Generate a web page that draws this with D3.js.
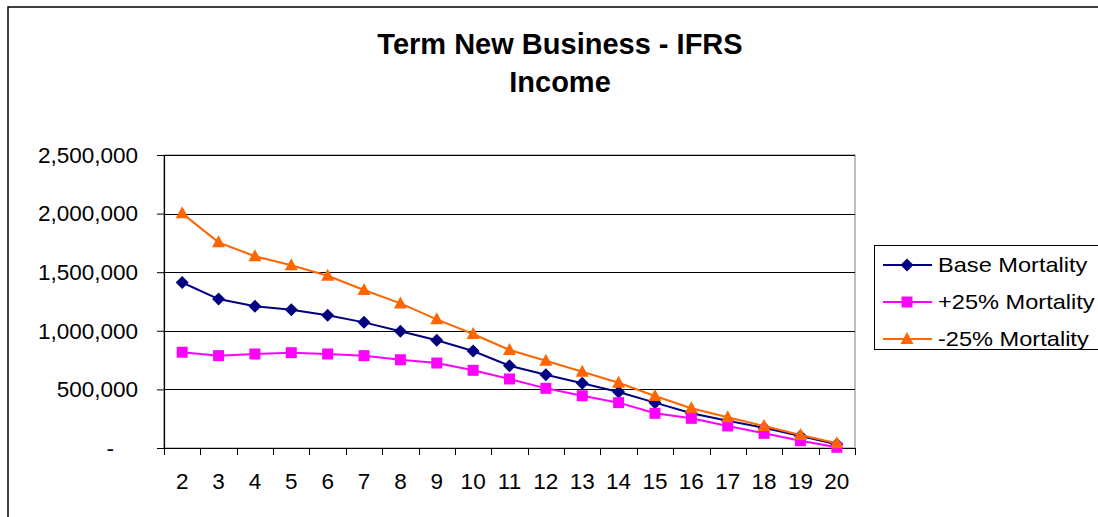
<!DOCTYPE html>
<html>
<head>
<meta charset="utf-8">
<script src="https://cdn.jsdelivr.net/npm/d3@7"></script>
<style>
  html, body { margin: 0; padding: 0; background: #fff; }
  svg { display: block; font-family: "Liberation Sans", Arial, sans-serif; }
</style>
</head>
<body>
<svg id="chart" width="1098" height="517"></svg>
<script>
// ---- data ----
const categories = [2,3,4,5,6,7,8,9,10,11,12,13,14,15,16,17,18,19,20];
const baseMortality = [1412000,1271000,1209000,1180000,1132000,1072000,996000,919000,828000,702000,625000,552000,478000,387000,296000,233000,173000,102000,32000];
const plus25Mortality = [817000,788000,802000,813000,802000,788000,753000,725000,663000,589000,509000,446000,387000,296000,253000,188000,125000,62000,6000];
const minus25Mortality = [2002000,1755000,1636000,1559000,1470000,1348000,1234000,1098000,973000,836000,745000,651000,557000,444000,339000,262000,188000,111000,40000];
const yTickValues = [0,500000,1000000,1500000,2000000,2500000];
const titleLines = ["Term New Business - IFRS", "Income"];

const series = [
  { name: "Base Mortality", values: baseMortality, color: "#000080", marker: "diamond" },
  { name: "+25% Mortality", values: plus25Mortality, color: "#FF00FF", marker: "square" },
  { name: "-25% Mortality", values: minus25Mortality, color: "#FF6600", marker: "triangle" }
];

// ---- layout ----
const svg = d3.select("#chart");
const plot = { left: 164, right: 855, top: 155, bottom: 448 };

// chart border (extends beyond page right/bottom)
svg.append("rect").attr("x", 8).attr("y", 7).attr("width", 1200).attr("height", 600)
  .attr("fill", "none").attr("stroke", "#000").attr("stroke-width", 1.5);

const x = d3.scaleBand().domain(categories).range([plot.left, plot.right]).padding(0);
const y = d3.scaleLinear().domain([0, 2500000]).range([plot.bottom, plot.top]);

// plot area frame (grey)
svg.append("rect").attr("x", plot.left).attr("y", plot.top)
  .attr("width", plot.right - plot.left).attr("height", plot.bottom - plot.top)
  .attr("fill", "none").attr("stroke", "#808080").attr("stroke-width", 1);

// gridlines
svg.append("g").selectAll("line").data(yTickValues.filter(v => v > 0)).join("line")
  .attr("x1", plot.left).attr("x2", plot.right)
  .attr("y1", d => Math.round(y(d)) + 0.5).attr("y2", d => Math.round(y(d)) + 0.5)
  .attr("stroke", "#000").attr("stroke-width", 1);

// y axis
const yAxis = d3.axisLeft(y).tickValues(yTickValues).tickSize(7).tickPadding(19)
  .tickFormat(d => d === 0 ? "-" : d3.format(",")(d));
const gy = svg.append("g").attr("transform", `translate(${plot.left},0)`).call(yAxis);
gy.select(".domain").attr("stroke", "#000").attr("stroke-width", 1.2);
gy.selectAll(".tick line").attr("stroke", "#000");
gy.selectAll(".tick text").attr("font-size", 22.5).attr("fill", "#000")
  .attr("font-family", "'Liberation Sans', Arial, sans-serif")
  .attr("x", d => d === 0 ? -50 : -26);

// x axis
const xAxis = d3.axisBottom(x).tickSize(0).tickPadding(25);
const gx = svg.append("g").attr("transform", `translate(0,${plot.bottom})`).call(xAxis);
gx.select(".domain").attr("stroke", "#000").attr("stroke-width", 1.2);
gx.selectAll(".tick text").attr("font-size", 22.5).attr("fill", "#000")
  .attr("font-family", "'Liberation Sans', Arial, sans-serif");
// tick marks between categories
const edges = categories.map(c => x(c)).concat([x.range()[1]]);
gx.append("g").selectAll("line").data(edges).join("line")
  .attr("x1", d => Math.round(d) + 0.5).attr("x2", d => Math.round(d) + 0.5)
  .attr("y1", 0).attr("y2", 7).attr("stroke", "#000");

function markerPath(m) {
  if (m === "diamond") return "M0,-6.5L6.5,0L0,6.5L-6.5,0Z";
  if (m === "square") return "M-5.5,-5.5H5.5V5.5H-5.5Z";
  return "M0,-7L6.5,5L-6.5,5Z";
}

const cx = c => x(c) + x.bandwidth() / 2;
const line = d3.line().x((d, i) => cx(categories[i])).y(d => y(d));

series.forEach(s => {
  const g = svg.append("g");
  g.append("path").datum(s.values).attr("d", line)
    .attr("fill", "none").attr("stroke", s.color).attr("stroke-width", 2);
  g.selectAll("path.m").data(s.values).join("path").attr("class", "m")
    .attr("d", markerPath(s.marker))
    .attr("transform", (d, i) => `translate(${cx(categories[i])},${y(d)})`)
    .attr("fill", s.color);
});

// title
const title = svg.append("g").attr("font-weight", "bold").attr("fill", "#000");
titleLines.forEach((t, i) => {
  title.append("text")
    .attr("x", 560).attr("y", i === 0 ? 54 : 92)
    .attr("text-anchor", "middle").attr("font-size", 29).text(t);
});

// legend
const leg = svg.append("g");
leg.append("rect").attr("x", 874.5).attr("y", 245.5).attr("width", 240).attr("height", 104)
  .attr("fill", "#fff").attr("stroke", "#000").attr("stroke-width", 1);
series.forEach((s, i) => {
  const ly = 265 + i * 37;
  leg.append("line").attr("x1", 883).attr("x2", 932).attr("y1", ly).attr("y2", ly)
    .attr("stroke", s.color).attr("stroke-width", 2);
  leg.append("path").attr("d", markerPath(s.marker)).attr("transform", `translate(907,${ly})`)
    .attr("fill", s.color);
  leg.append("text").attr("transform", `translate(938,${ly + 7}) scale(1.18,1)`)
    .attr("font-size", 20).attr("fill", "#000").text(s.name);
});
</script>
</body>
</html>
